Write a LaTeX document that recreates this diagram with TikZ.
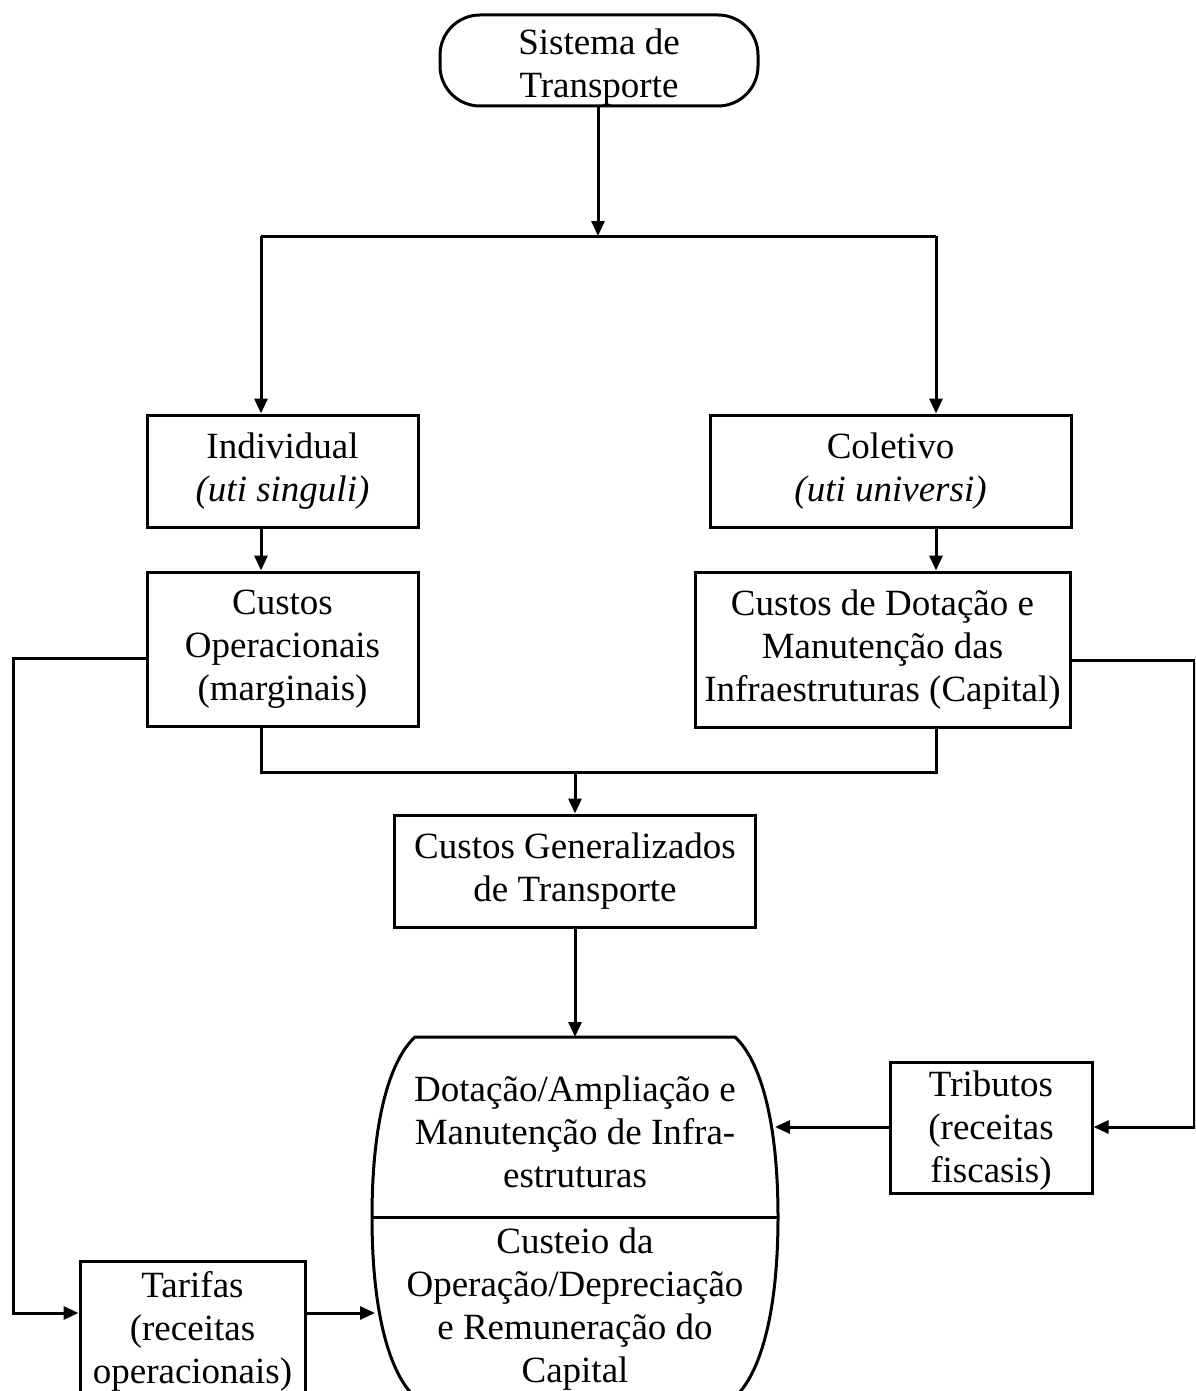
\documentclass[tikz,border=0pt]{standalone}
\usepackage{fontspec}
\setmainfont{Liberation Serif}
\usetikzlibrary{arrows.meta}
\begin{document}
\begin{tikzpicture}[x=1pt,y=-1pt,
  line width=3pt,
  every node/.style={font=\fontsize{37}{43}\selectfont, align=center, inner sep=0pt},
  box/.style={draw, rectangle},
  arr/.style={-{Triangle[length=15pt,width=13pt]}}]
\useasboundingbox (0,0) rectangle (1195,1391);
\clip (0,0) rectangle (1195,1391);

% boxes
\node[box, rounded corners=40pt, minimum width=318pt, minimum height=91pt] (sys) at (599,60.5) {\rule{0pt}{38pt}Sistema de\\Transporte};
\node[box, minimum width=271pt, minimum height=112pt] (ind) at (282.5,471) {Individual\\\textit{(uti singuli)}};
\node[box, minimum width=361pt, minimum height=112pt] (col) at (890.5,471) {Coletivo\\\textit{(uti universi)}};
\node[box, minimum width=271pt, minimum height=154pt] (cop) at (282.5,649) {Custos\\Operacionais\\(marginais)};
\node[box, minimum width=375pt, minimum height=155pt] (cdot) at (882.5,649.5) {Custos de Dotação e\\Manutenção das\\Infraestruturas (Capital)};
\node[box, minimum width=361pt, minimum height=112pt] (cgen) at (575,871) {Custos Generalizados\\de Transporte};
\node[box, minimum width=202pt, minimum height=131pt] (trib) at (991,1127.5) {\rule{0pt}{32pt}Tributos\\(receitas\\fiscasis)};
\node[box, minimum width=225pt, minimum height=140pt, anchor=north] (tar) at (192.5,1260) {Tarifas\\(receitas\\operacionais)};

% barrel-shaped store
\draw (415,1037) -- (735,1037)
  .. controls (760,1060) and (778,1120) .. (778,1217)
  .. controls (778,1314) and (760,1374) .. (735,1397)
  -- (415,1397)
  .. controls (390,1374) and (372,1314) .. (372,1217)
  .. controls (372,1120) and (390,1060) .. (415,1037) -- cycle;
\coordinate (dl) at (372,1217);
\coordinate (dr) at (778,1217);
\draw (dl) -- (dr);
\node (upper) at (575,1132) {Dotação/Ampliação e\\Manutenção de Infra-\\estruturas};
\node (lower) at (575,1309) {Custeio da\\Operação/Depreciação\\e Remuneração do\\Capital};
\coordinate (btop) at (575,1037);
\coordinate (bleft) at (375,1313);
\coordinate (bright) at (775,1127);

% junction points
\coordinate (split) at (598,236);
\coordinate (jl) at (261,236);
\coordinate (jr) at (936,236);
\coordinate (ml) at (261,772);
\coordinate (mr) at (936,772);
\coordinate (mm) at (575,772);
\coordinate (lc) at (13,658);
\coordinate (lb) at (13,1313);
\coordinate (rc) at (1194,660);
\coordinate (rb) at (1194,1127);

% connectors
\draw[arr] (sys.south -| split) -- (split);
\draw (jl) -- (jr);
\draw[arr] (jl) -- (jl |- ind.north);
\draw[arr] (jr) -- (jr |- col.north);
\draw[arr] (ind.south -| jl) -- (cop.north -| jl);
\draw[arr] (col.south -| jr) -- (cdot.north -| jr);
\draw (cop.south -| ml) -- (ml) -- (mr) -- (cdot.south -| mr);
\draw[arr] (mm) -- (mm |- cgen.north);
\draw[arr] (cgen.south -| btop) -- (btop);
\draw[arr] (cop.west |- lc) -- (lc) -- (lb) -- (lb -| tar.west);
\draw[arr] (lb -| tar.east) -- (bleft);
\draw[arr] (cdot.east |- rc) -- (rc) -- (rb) -- (rb -| trib.east);
\draw[arr] (rb -| trib.west) -- (bright);
\end{tikzpicture}
\end{document}
